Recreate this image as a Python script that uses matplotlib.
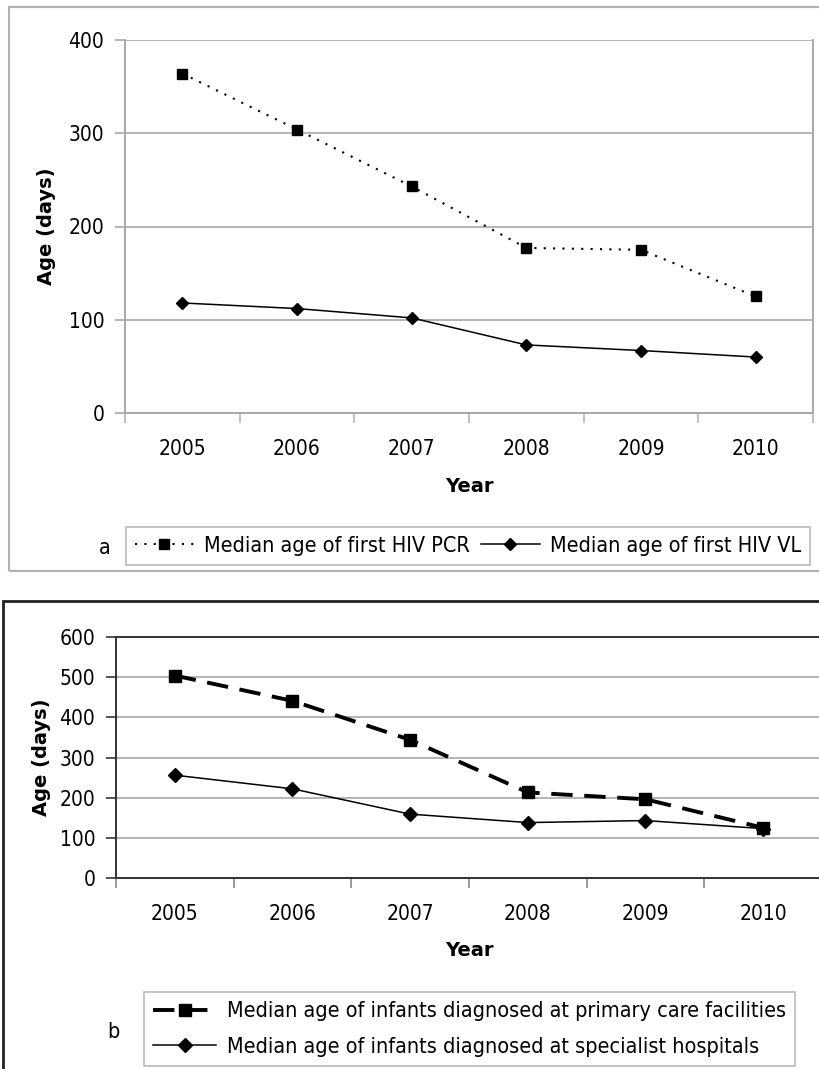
import matplotlib
matplotlib.use("Agg")
import matplotlib.pyplot as plt
from matplotlib.patches import Rectangle
import numpy as np

plt.rcParams['font.family'] = ['DejaVu Sans']
plt.rcParams['font.stretch'] = 'condensed'

years = ['2005', '2006', '2007', '2008', '2009', '2010']
pcr = [364, 304, 243, 177, 175, 125]
vl = [118, 112, 102, 73, 67, 60]
primary = [504, 441, 344, 213, 196, 125]
specialist = [256, 222, 159, 138, 143, 123]

W, H = 820, 1069
fig = plt.figure(figsize=(W / 100, H / 100), dpi=100)

def px_axes(left, top, right, bottom):
    return fig.add_axes([left / W, 1 - bottom / H, (right - left) / W, (bottom - top) / H])

tick_fs = 15
lab_fs = 14
leg_fs = 15.5

def style_axes(ax, ymax, ystep, frame_col, grid_col, ylab_x, xlab_y):
    x = np.arange(len(years))
    ax.set_xlim(-0.5, len(years) - 0.5)
    ax.set_ylim(0, ymax)
    ax.set_yticks(np.arange(0, ymax + 1, ystep))
    ax.set_xticks(x)
    ax.set_xticklabels(years)
    ax.set_xticks(np.arange(-0.5, len(years)), minor=True)
    ax.tick_params(axis='x', which='major', length=0, pad=18.5, labelsize=tick_fs)
    ax.tick_params(axis='x', which='minor', length=7, width=1.2, color=grid_col)
    ax.tick_params(axis='y', length=7, width=1.2, color=frame_col, pad=8, labelsize=tick_fs)
    ax.yaxis.grid(True, color=grid_col, lw=1.4)
    ax.set_axisbelow(True)
    for s in ax.spines.values():
        s.set_color(frame_col)
        s.set_linewidth(1.4)
    ax.set_xlabel('Year', fontsize=lab_fs, fontweight='bold', fontstretch='normal', va='center')
    ax.set_ylabel('Age (days)', fontsize=lab_fs, fontweight='bold', fontstretch='normal', va='center')
    ax.xaxis.set_label_coords(0.5, xlab_y)
    ax.yaxis.set_label_coords(ylab_x, 0.5)

# panel a
ax1 = px_axes(125, 40, 813, 413)
x = np.arange(len(years))
l1, = ax1.plot(x, pcr, color='black', lw=1.5, linestyle=(0, (1, 3.5)), marker='s', ms=6.5,
               label='Median age of first HIV PCR')
l2, = ax1.plot(x, vl, color='black', lw=1.1, marker='D', ms=6,
               label='Median age of first HIV VL')
style_axes(ax1, 400, 100, '#a8a8a8', '#b4b4b4', (47 - 125) / 688, (413 - 487) / 373)
ax1.spines['top'].set_visible(False)
leg1 = fig.legend(handles=[l1, l2], loc='center', bbox_to_anchor=(468 / W, 1 - 546 / H),
                  ncol=2, fontsize=leg_fs, frameon=True, fancybox=False, edgecolor='#a8a8a8',
                  handlelength=2.75, handletextpad=0.47, columnspacing=0.5, borderpad=0.4)
leg1.get_frame().set_linewidth(1.2)
fig.text(105 / W, 1 - 548 / H, 'a', fontsize=leg_fs, ha='center', va='center')
fig.patches.append(Rectangle((9 / W, 1 - 571 / H), 820 / W, 564 / H, transform=fig.transFigure,
                             fill=False, edgecolor='#b0b0b0', lw=1.5))

# panel b
ax2 = px_axes(116, 637, 822, 878)
l3, = ax2.plot(x, primary, color='black', lw=2.8, linestyle=(0, (5.5, 3)), marker='s', ms=8,
               label='Median age of infants diagnosed at primary care facilities')
l4, = ax2.plot(x, specialist, color='black', lw=1.1, marker='D', ms=7,
               label='Median age of infants diagnosed at specialist hospitals')
style_axes(ax2, 600, 100, '#333333', '#b4b4b4', (42 - 116) / 706, (878 - 950) / 241)
ax2.tick_params(axis='x', which='minor', color='#888888')
leg2 = fig.legend(handles=[l3, l4], loc='center', bbox_to_anchor=(469.5 / W, 1 - 1029 / H),
                  ncol=1, fontsize=leg_fs, frameon=True, fancybox=False, edgecolor='#a8a8a8',
                  handlelength=2.9, handletextpad=0.5, labelspacing=0.7, borderpad=0.45)
leg2.get_frame().set_linewidth(1.2)
fig.text(113 / W, 1 - 1032 / H, 'b', fontsize=leg_fs, ha='center', va='center')
fig.patches.append(Rectangle((3 / W, 1 - 1080 / H), 830 / W, 479 / H, transform=fig.transFigure,
                             fill=False, edgecolor='#222222', lw=2))

fig.savefig('out.png', dpi=100)
